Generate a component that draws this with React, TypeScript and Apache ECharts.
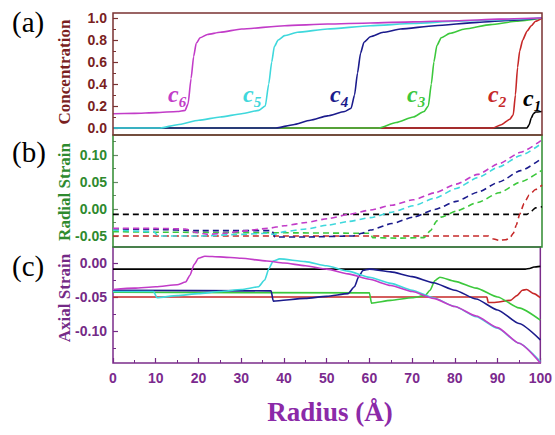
import React, { useEffect, useRef } from "react";
import * as echarts from "echarts";

// ---------- data ----------
const curveNames = ["1", "2", "3", "4", "5", "6"];
const curveColors = ["#000000", "#c62828", "#3cc83c", "#1b1b8c", "#3fd8dc", "#c23cc8"];

const xTicks = [0, 10, 20, 30, 40, 50, 60, 70, 80, 90, 100];
const xMinor = [5, 15, 25, 35, 45, 55, 65, 75, 85, 95];
const concTicks = [0, 0.2, 0.4, 0.6, 0.8, 1.0];
const concMinor = [0.1, 0.3, 0.5, 0.7, 0.9];
const radialTicks = [-0.05, 0, 0.05, 0.1];
const radialMinor = [-0.025, 0.025, 0.075, 0.125];
const axialTicks = [-0.1, -0.05, 0];
const axialMinor = [-0.125, -0.075, -0.025];

// Concentration (a)
const concC1 = [[0, 0], [96.5, 0], [97, 0.03], [97.5, 0.09], [98, 0.13], [98.5, 0.145], [100, 0.15]];
const concC2 = [[0, 0], [88.5, 0], [90.5, 0.03], [92.5, 0.08], [93.3, 0.12], [93.8, 0.3], [94.3, 0.55], [94.8, 0.7], [95.5, 0.8], [96.5, 0.88], [97.5, 0.93], [98.5, 0.97], [100, 1.0]];
const concC3 = [[0, 0], [62, 0], [66, 0.05], [70, 0.1], [72.5, 0.15], [73.5, 0.2], [74.2, 0.4], [74.8, 0.6], [75.5, 0.75], [76.5, 0.82], [78.5, 0.86], [82, 0.9], [88, 0.94], [94, 0.97], [100, 1.0]];
const concC4 = [[0, 0], [38, 0], [42, 0.03], [46, 0.07], [50, 0.11], [54, 0.15], [55.5, 0.18], [56.3, 0.3], [57, 0.5], [57.7, 0.68], [58.5, 0.78], [60, 0.83], [63, 0.87], [67, 0.9], [75, 0.93], [85, 0.96], [93, 0.98], [100, 1.0]];
const concC5 = [[0, 0], [11, 0], [15, 0.03], [20, 0.07], [25, 0.1], [30, 0.13], [34, 0.16], [35.5, 0.2], [36.3, 0.4], [37, 0.6], [37.6, 0.74], [38.5, 0.8], [40, 0.84], [43, 0.87], [50, 0.9], [60, 0.93], [70, 0.95], [80, 0.97], [90, 0.985], [100, 1.0]];
const concC6 = [[0, 0.13], [5, 0.133], [10, 0.14], [15, 0.15], [16.8, 0.16], [17.5, 0.22], [18.2, 0.45], [18.8, 0.65], [19.4, 0.77], [20.3, 0.82], [22, 0.85], [25, 0.87], [30, 0.9], [40, 0.93], [50, 0.945], [60, 0.955], [70, 0.965], [80, 0.975], [90, 0.99], [100, 1.0]];

// Radial strain (b)
const radC1 = [[0, -0.01], [96.5, -0.01], [97.5, -0.004], [98.5, 0.002], [100, 0.004]];
const radC2 = [[0, -0.05], [87.5, -0.05], [88.5, -0.055], [90, -0.058], [91.5, -0.057], [92.5, -0.054], [93.3, -0.045], [94, -0.03], [94.8, -0.01], [95.8, 0.01], [97, 0.026], [98.5, 0.036], [100, 0.044]];
const radC3 = [[0, -0.042], [10, -0.043], [37, -0.044], [60, -0.045], [60.5, -0.053], [66, -0.054], [72.5, -0.053], [74, -0.04], [75.5, -0.022], [76.5, -0.015], [80, -0.004], [85, 0.012], [90, 0.03], [95, 0.05], [100, 0.072]];
const radC4 = [[0, -0.037], [10, -0.038], [20, -0.04], [37, -0.04], [37.8, -0.052], [45, -0.052], [56, -0.05], [58, -0.045], [60, -0.039], [65, -0.027], [70, -0.015], [75, -0.001], [80, 0.014], [85, 0.031], [90, 0.05], [95, 0.071], [100, 0.094]];
const radC5 = [[0, -0.039], [9.5, -0.042], [10.5, -0.05], [20, -0.05], [30, -0.047], [36, -0.045], [37.5, -0.047], [40, -0.042], [45, -0.037], [50, -0.03], [55, -0.023], [60, -0.016], [65, -0.006], [70, 0.006], [75, 0.02], [80, 0.038], [85, 0.058], [90, 0.078], [95, 0.099], [100, 0.122]];
const radC6 = [[0, -0.036], [10, -0.036], [17, -0.037], [19, -0.043], [22, -0.047], [26, -0.045], [30, -0.041], [36, -0.036], [40, -0.031], [45, -0.025], [50, -0.018], [55, -0.01], [60, -0.002], [65, 0.007], [70, 0.017], [75, 0.03], [80, 0.046], [85, 0.064], [90, 0.084], [95, 0.105], [100, 0.128]];

// Axial strain (c)
const axC1 = [[0, -0.009], [96.5, -0.009], [97.5, -0.008], [98.5, -0.006], [100, -0.005]];
const axC2 = [[0, -0.05], [87.5, -0.05], [87.8, -0.058], [89, -0.058], [93, -0.055], [94.5, -0.048], [95.8, -0.04], [96.8, -0.039], [98.5, -0.045], [100, -0.051]];
const axC3 = [[0, -0.043], [60, -0.044], [60.5, -0.059], [65, -0.055], [70, -0.051], [73, -0.048], [74.2, -0.04], [75.3, -0.026], [76.5, -0.021], [80, -0.027], [85, -0.037], [90, -0.05], [95, -0.066], [100, -0.084]];
const axC4 = [[0, -0.04], [37, -0.041], [37.5, -0.056], [45, -0.052], [50, -0.049], [55, -0.045], [56.5, -0.035], [57.5, -0.02], [58.5, -0.011], [60, -0.009], [65, -0.013], [70, -0.02], [75, -0.029], [80, -0.04], [85, -0.053], [90, -0.069], [95, -0.089], [100, -0.113]];
const axC5 = [[0, -0.042], [9.5, -0.042], [10.3, -0.051], [15, -0.048], [20, -0.045], [25, -0.042], [30, -0.039], [34, -0.035], [35.5, -0.025], [36.5, -0.008], [37.5, 0.003], [39, 0.006], [45, 0.002], [50, -0.004], [55, -0.012], [60, -0.021], [65, -0.03], [70, -0.04], [75, -0.051], [80, -0.064], [85, -0.079], [90, -0.096], [95, -0.118], [100, -0.145]];
const axC6 = [[0, -0.039], [5, -0.037], [10, -0.035], [15, -0.032], [17, -0.028], [18, -0.018], [19, -0.002], [20, 0.007], [21.5, 0.01], [25, 0.009], [30, 0.007], [36, 0.003], [40, 0], [45, -0.004], [50, -0.009], [55, -0.016], [60, -0.024], [65, -0.033], [70, -0.042], [75, -0.052], [80, -0.064], [85, -0.078], [90, -0.095], [95, -0.118], [100, -0.147]];

const concSeries = [concC1, concC2, concC3, concC4, concC5, concC6];
const radSeries = [radC1, radC2, radC3, radC4, radC5, radC6];
const axSeries = [axC1, axC2, axC3, axC4, axC5, axC6];

// label placement for the c_i annotations (pixel anchor)
const curveLabelPos = [
  [523, 98],
  [488, 94],
  [407, 94],
  [330, 94],
  [243, 94],
  [168, 94],
];

const SERIF = "Liberation Serif";
const SANS = "Liberation Sans";

const C_A = "#7a1f1f";
const C_B = "#2e8a2e";
const C_C = "#742a86";

export default function App() {
  const ref = useRef<HTMLDivElement>(null);

  useEffect(() => {
    const chart = echarts.init(ref.current!, null, { renderer: "svg" });

    const L = 113;
    const W = 429;

    const mkY = (grid: number, min: number, max: number, ticks: number[], color: string, lineColor: string, digits: number) => ({
      gridIndex: grid,
      type: "value",
      position: "left",
      min,
      max,
      axisLine: { show: false, onZero: false },
      splitLine: { show: false },
      axisTick: { show: true, inside: true, length: 5, customValues: ticks, lineStyle: { color: lineColor, width: 1.2 } },
      axisLabel: {
        customValues: ticks,
        formatter: (v: number) => v.toFixed(digits),
        color,
        fontWeight: "bold",
        fontSize: 14,
        fontFamily: SANS,
        margin: 6,
      },
    });
    const mkYMinor = (grid: number, min: number, max: number, ticks: number[], lineColor: string) => ({
      gridIndex: grid,
      type: "value",
      position: "left",
      offset: 0,
      min,
      max,
      axisLine: { show: false, onZero: false },
      splitLine: { show: false },
      axisLabel: { show: false },
      axisTick: { show: true, inside: true, length: 3, customValues: ticks, lineStyle: { color: lineColor, width: 1 } },
    });

    const aMin = -0.0636, aMax = 1.0455;
    const bMin = -0.0704, bMax = 0.137;
    const cMin = -0.147, cMax = 0.0235;

    const series: any[] = [];
    concSeries.forEach((d, i) =>
      series.push({
        type: "line", xAxisIndex: 0, yAxisIndex: 0, data: d, showSymbol: false, symbol: "none",
        smooth: 0.2, smoothMonotone: "x",
        lineStyle: { color: curveColors[i], width: 1.6 }, z: 3,
      })
    );
    radSeries.forEach((d, i) =>
      series.push({
        type: "line", xAxisIndex: 1, yAxisIndex: 2, data: d, showSymbol: false, symbol: "none",
        smooth: 0.2, smoothMonotone: "x",
        lineStyle: { color: curveColors[i], width: 1.6, type: [6, 4] }, z: 3,
      })
    );
    axSeries.forEach((d, i) =>
      series.push({
        type: "line", xAxisIndex: 2, yAxisIndex: 4, data: d, showSymbol: false, symbol: "none",
        smooth: 0.2, smoothMonotone: "x",
        lineStyle: { color: curveColors[i], width: 1.6 }, z: 3,
      })
    );

    const txt = (text: string, x: number, y: number, size: number, weight: string, fill: string, rot = 0, align = "left") => ({
      type: "text",
      x,
      y,
      rotation: rot,
      z: 10,
      style: { text, fontFamily: SERIF, fontSize: size, fontWeight: weight, fill, align, verticalAlign: "middle" },
    });

    const graphics: any[] = [
      txt("(a)", 12, 22, 29, "normal", "#000"),
      txt("(b)", 12, 152, 29, "normal", "#000"),
      txt("(c)", 12, 266, 29, "normal", "#000"),
      txt("Concentration", 64, 72, 17, "bold", C_A, Math.PI / 2, "center"),
      txt("Radial Strain", 64, 192, 17, "bold", C_B, Math.PI / 2, "center"),
      txt("Axial Strain", 64, 298, 17, "bold", C_C, Math.PI / 2, "center"),
      txt("Radius (Å)", 330, 412, 27, "bold", "#8b2aa8", 0, "center"),
    ];
    curveNames.forEach((n, i) => {
      const [px, py] = curveLabelPos[i];
      graphics.push({
        type: "text",
        x: px,
        y: py,
        z: 10,
        style: {
          text: `{c|c}{s|${n}}`,
          verticalAlign: "middle",
          rich: {
            c: { fontSize: 24, fontStyle: "italic", fontWeight: "bold", fontFamily: SERIF, fill: curveColors[i], lineHeight: 30, verticalAlign: "middle" },
            s: { fontSize: 15, fontStyle: "italic", fontWeight: "bold", fontFamily: SERIF, fill: curveColors[i], lineHeight: 14, verticalAlign: "bottom" },
          },
        },
      });
    });

    const xBottom = (ticks: number[], len: number, width: number, labels: boolean) => ({
      gridIndex: 2, type: "value", min: 0, max: 100, position: "bottom",
      axisLine: { show: false, onZero: false },
      splitLine: { show: false },
      axisTick: { show: true, inside: true, length: len, customValues: ticks, lineStyle: { color: C_C, width } },
      axisLabel: labels
        ? { customValues: ticks, color: "#7b2a8e", fontWeight: "bold", fontSize: 14, fontFamily: SANS, margin: 8 }
        : { show: false },
    });

    chart.setOption({
      animation: false,
      grid: [
        { left: L, top: 13, width: W, height: 122, show: true, borderColor: "#7a3232", borderWidth: 1.5, z: 4 },
        { left: L, top: 135, width: W, height: 112, show: true, borderColor: "#2f8a2f", borderWidth: 1.5, z: 3 },
        { left: L, top: 247, width: W, height: 116, show: true, borderColor: "#7b2d8b", borderWidth: 1.5, z: 2 },
      ],
      xAxis: [
        { gridIndex: 0, type: "value", min: 0, max: 100, show: false },
        { gridIndex: 1, type: "value", min: 0, max: 100, show: false },
        xBottom(xTicks, 5, 1.2, true),
        xBottom(xMinor, 3, 1, false),
      ],
      yAxis: [
        mkY(0, aMin, aMax, concTicks, C_A, "#7a3232", 1),
        mkYMinor(0, aMin, aMax, concMinor, "#7a3232"),
        mkY(1, bMin, bMax, radialTicks, C_B, "#6a8a6a", 2),
        mkYMinor(1, bMin, bMax, radialMinor, "#6a8a6a"),
        mkY(2, cMin, cMax, axialTicks, C_C, C_C, 2),
        mkYMinor(2, cMin, cMax, axialMinor, C_C),
      ],
      series,
      graphic: graphics,
    } as any);

    return () => chart.dispose();
  }, []);

  return <div ref={ref} style={{ position: "absolute", left: 0, top: 0, width: 555, height: 435 }} />;
}
